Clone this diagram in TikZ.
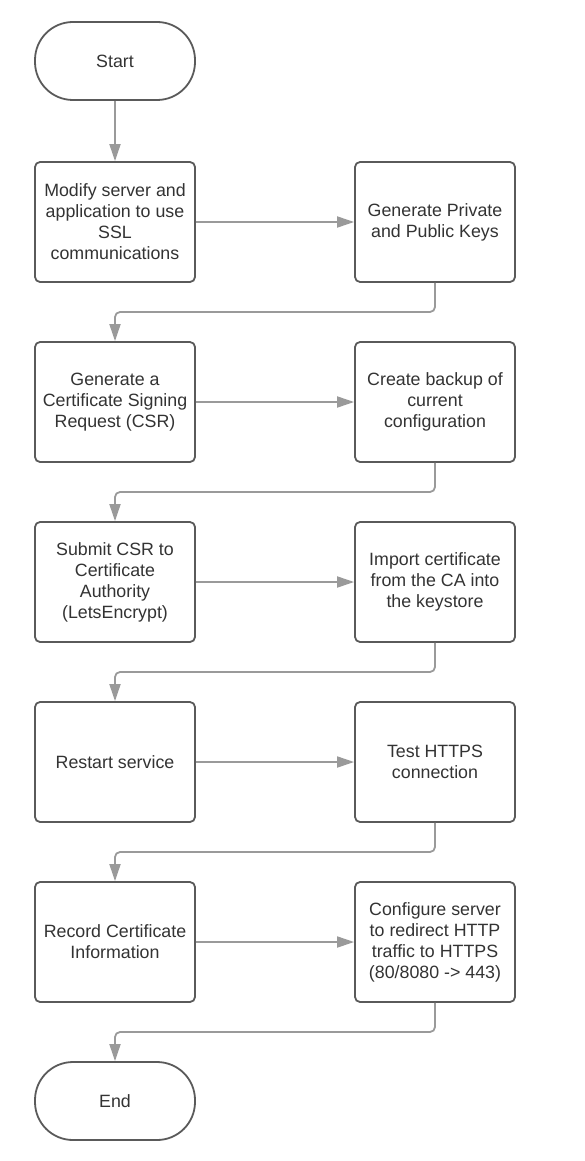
\documentclass[tikz,border=0pt]{standalone}
\usepackage{fontspec}
\setmainfont{Liberation Sans}
\usetikzlibrary{arrows.meta}
\definecolor{boxline}{HTML}{5A5A5A}
\definecolor{flowline}{HTML}{9A9A9A}
\definecolor{boxtext}{HTML}{333333}
\begin{document}
\begin{tikzpicture}[x=1pt,y=-1pt, line join=round,
    stepbox/.style={draw=boxline, line width=1.8pt, rounded corners=5pt, fill=white,
      minimum width=160pt, minimum height=120pt, align=center, text=boxtext,
      font=\fontsize{17.8}{21}\selectfont, inner sep=0pt},
    termbox/.style={stepbox, minimum height=78pt, rounded corners=38pt},
    flow/.style={draw=flowline, line width=1.8pt, rounded corners=5pt,
      -{Triangle[length=17pt,width=11pt]}}]
  \def\xl{115} \def\xr{435}
  \useasboundingbox (0,0) rectangle (585,1161);
  % terminals
  \node[termbox] (start) at (\xl,61) {Start};
  \node[termbox] (end) at (\xl,1101) {End};
  % left column
  \node[stepbox] (modify) at (\xl,222) {Modify server and\\application to use\\SSL\\communications};
  \node[stepbox] (csr) at (\xl,402) {Generate a\\Certificate Signing\\Request (CSR)};
  \node[stepbox] (submit) at (\xl,582) {Submit CSR to\\Certificate\\Authority\\(LetsEncrypt)};
  \node[stepbox] (restart) at (\xl,762) {Restart service};
  \node[stepbox] (record) at (\xl,942) {Record Certificate\\Information};
  % right column
  \node[stepbox] (keys) at (\xr,222) {Generate Private\\and Public Keys};
  \node[stepbox] (backup) at (\xr,402) {Create backup of\\current\\configuration};
  \node[stepbox] (import) at (\xr,582) {Import certificate\\from the CA into\\the keystore};
  \node[stepbox] (test) at (\xr,762) {Test HTTPS\\connection};
  \node[stepbox] (redirect) at (\xr,942) {Configure server\\to redirect HTTP\\traffic to HTTPS\\(80/8080 -> 443)};
  % connectors
  \draw[flow] (start) -- (modify);
  \draw[flow] (modify) -- (keys);
  \draw[flow] (keys.south) |- (\xl,312) -- (csr.north);
  \draw[flow] (csr) -- (backup);
  \draw[flow] (backup.south) |- (\xl,492) -- (submit.north);
  \draw[flow] (submit) -- (import);
  \draw[flow] (import.south) |- (\xl,672) -- (restart.north);
  \draw[flow] (restart) -- (test);
  \draw[flow] (test.south) |- (\xl,852) -- (record.north);
  \draw[flow] (record) -- (redirect);
  \draw[flow] (redirect.south) |- (\xl,1032) -- (end.north);
\end{tikzpicture}
\end{document}
